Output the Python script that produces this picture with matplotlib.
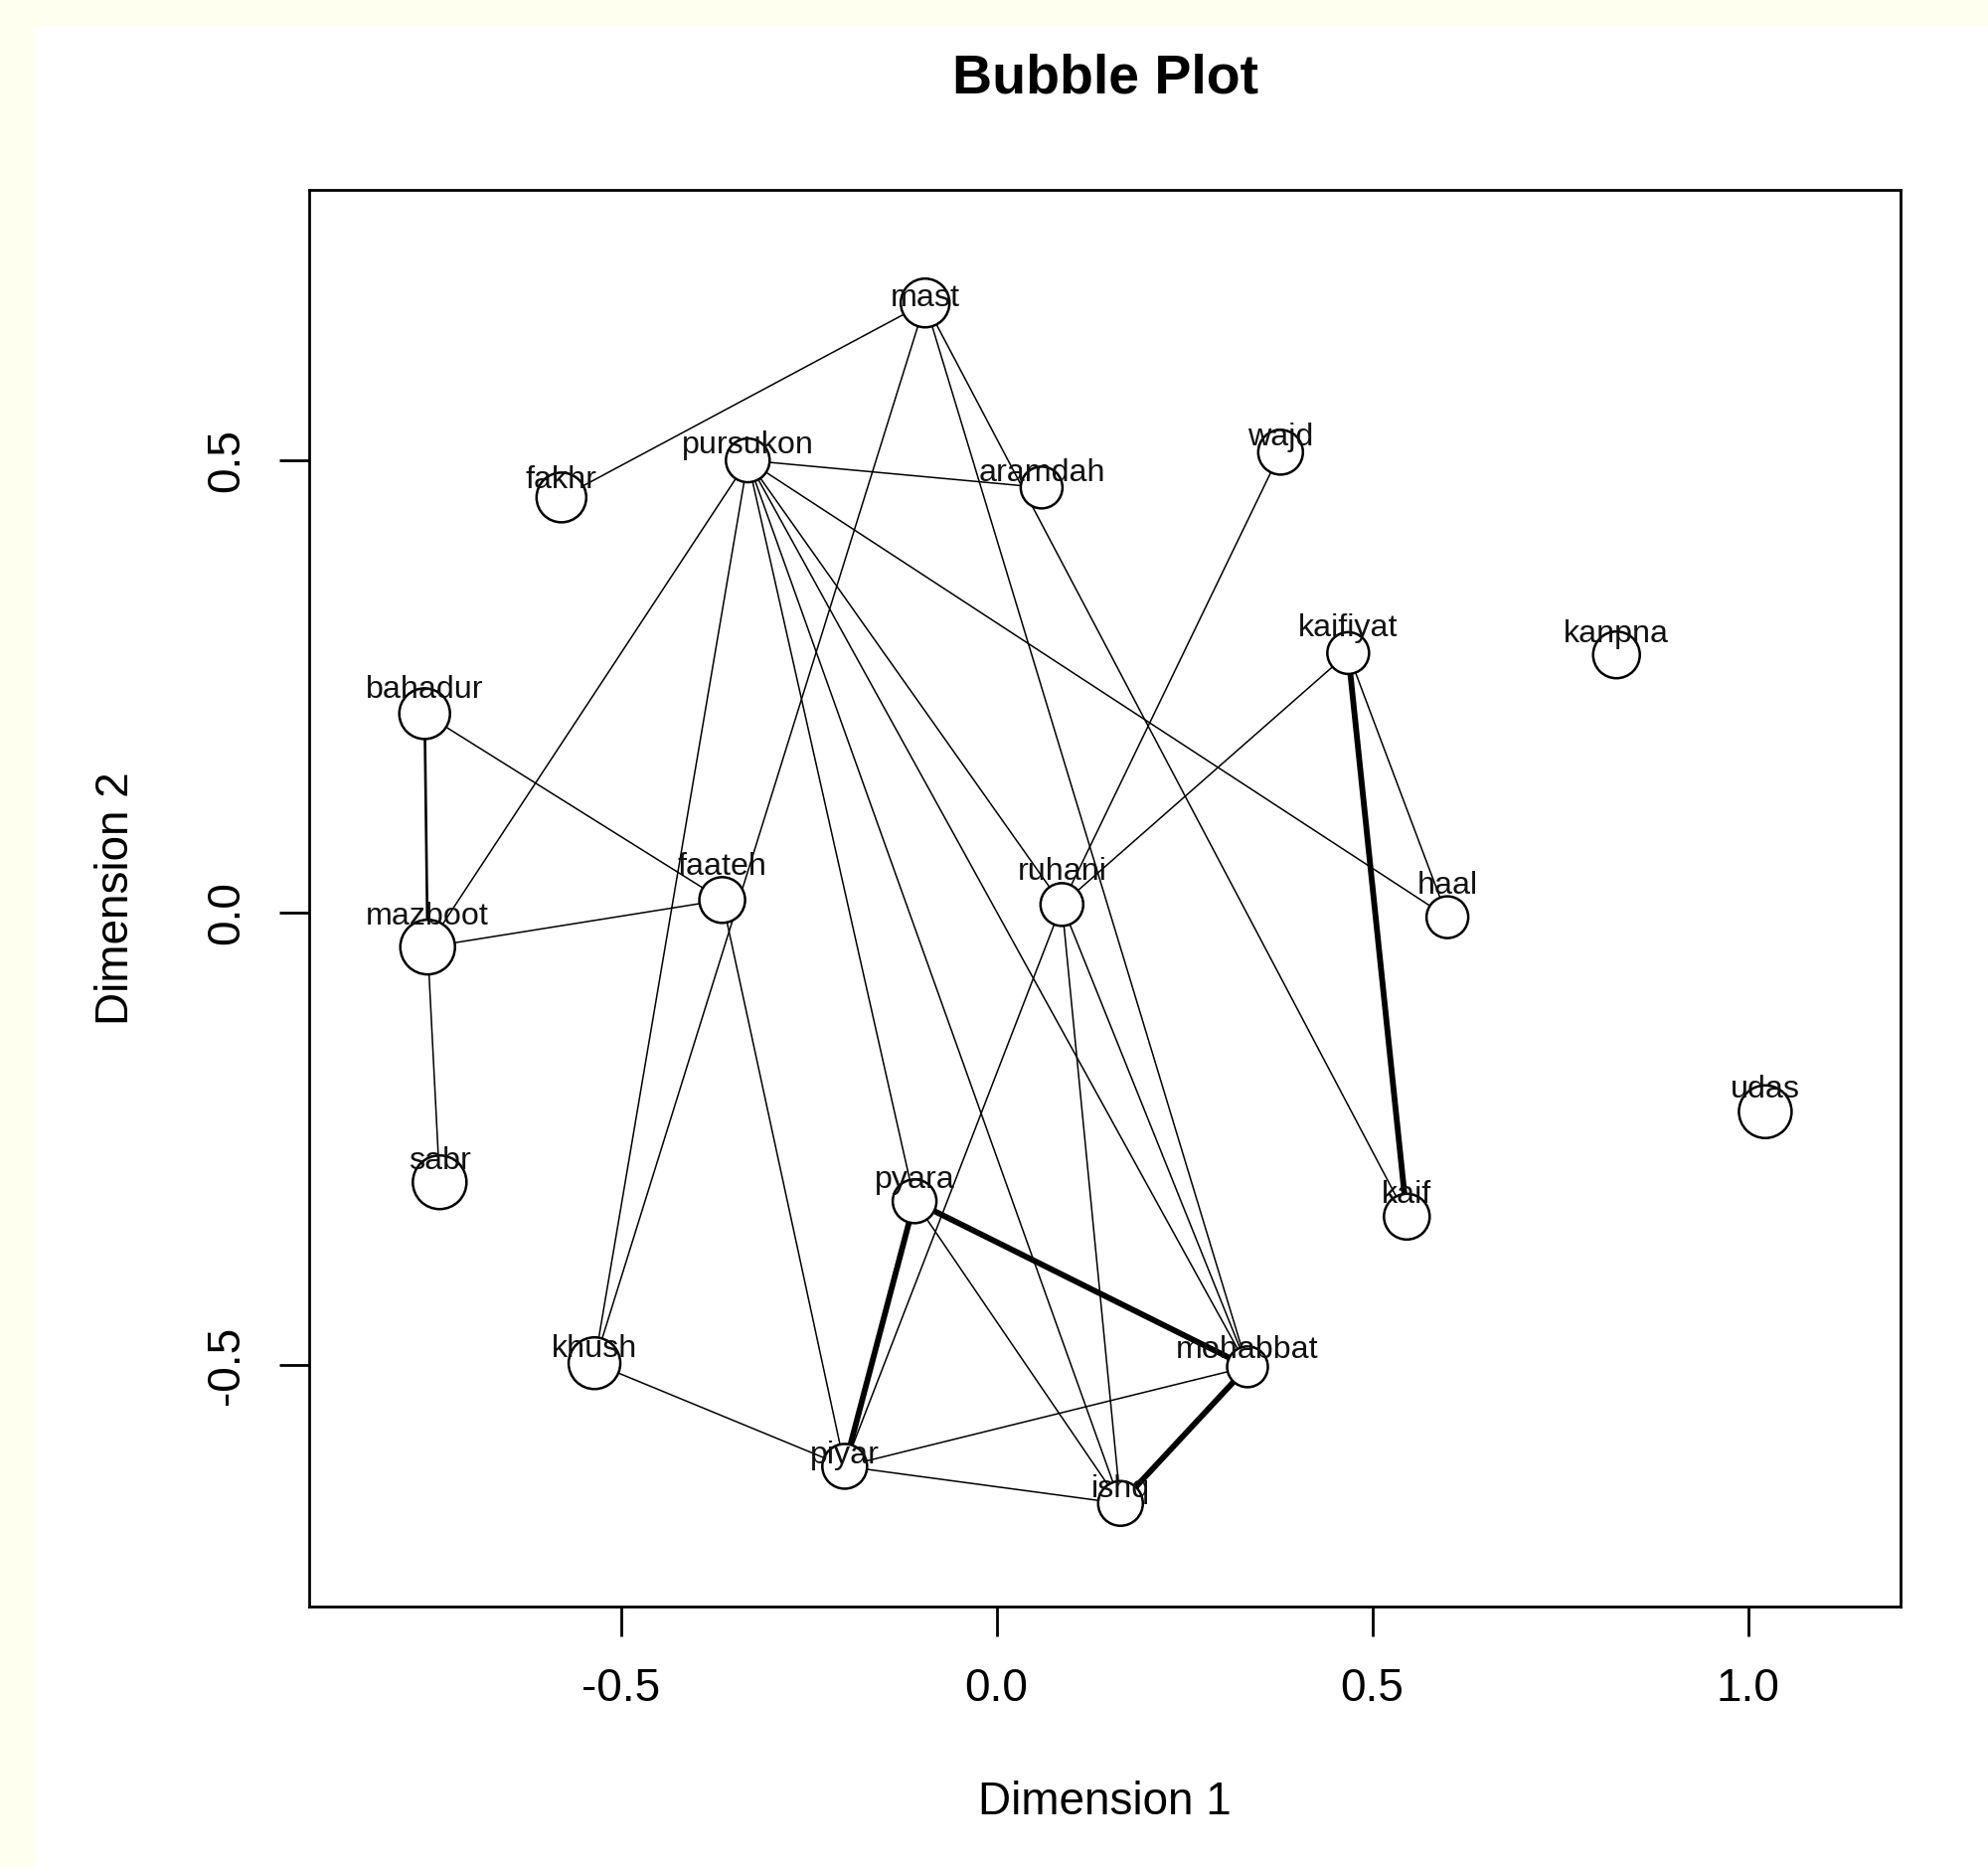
import matplotlib
matplotlib.use('Agg')
import matplotlib.pyplot as plt
from matplotlib.patches import Rectangle

plt.rcParams['font.family'] = ['Liberation Sans', 'DejaVu Sans']

# ---------------- data ----------------
words = ['mast', 'fakhr', 'pursukon', 'aramdah', 'wajd', 'kaifiyat', 'kanpna',
         'bahadur', 'faateh', 'ruhani', 'haal', 'mazboot', 'udas', 'sabr',
         'pyara', 'kaif', 'khush', 'mohabbat', 'piyar', 'ishq']
dim1 = [-0.095, -0.579, -0.331, 0.060, 0.378, 0.468, 0.825,
        -0.761, -0.365, 0.087, 0.600, -0.757, 1.023, -0.741,
        -0.109, 0.546, -0.535, 0.334, -0.202, 0.165]
dim2 = [0.674, 0.459, 0.500, 0.470, 0.509, 0.287, 0.285,
        0.220, 0.014, 0.009, -0.005, -0.038, -0.220, -0.298,
        -0.319, -0.336, -0.498, -0.502, -0.612, -0.653]
bubble_size = [2.45, 2.5, 2.2, 2.1, 2.25, 2.1, 2.35,
               2.55, 2.3, 2.15, 2.1, 2.75, 2.65, 2.7,
               2.2, 2.3, 2.6, 2.05, 2.25, 2.25]
label_dy = [0.009, 0.023, 0.020, 0.020, 0.020, 0.031, 0.027,
            0.030, 0.041, 0.040, 0.039, 0.038, 0.028, 0.027,
            0.027, 0.028, 0.019, 0.022, 0.016, 0.019]

edges_from = ['mast', 'mast', 'mast', 'mast',
              'pursukon', 'pursukon', 'pursukon', 'pursukon', 'pursukon',
              'pursukon', 'pursukon', 'pursukon',
              'wajd', 'kaifiyat', 'kaifiyat', 'kaifiyat',
              'bahadur', 'bahadur', 'mazboot', 'mazboot',
              'faateh', 'ruhani', 'ruhani', 'ruhani',
              'khush', 'pyara', 'pyara', 'pyara', 'piyar', 'piyar', 'mohabbat']
edges_to = ['fakhr', 'khush', 'mohabbat', 'kaif',
            'aramdah', 'haal', 'mazboot', 'khush', 'pyara',
            'ishq', 'mohabbat', 'ruhani',
            'ruhani', 'ruhani', 'haal', 'kaif',
            'faateh', 'mazboot', 'faateh', 'sabr',
            'piyar', 'piyar', 'ishq', 'mohabbat',
            'piyar', 'ishq', 'piyar', 'mohabbat', 'mohabbat', 'ishq', 'ishq']
edges_weight = [1, 1, 1, 1,
                1, 1, 1, 1, 1,
                1, 1, 1,
                1, 1, 1, 3,
                1, 2, 1, 1,
                1, 1, 1, 1,
                1, 1, 3, 3, 1, 1, 3]

x_ticks = [-0.5, 0.0, 0.5, 1.0]
x_tick_labels = ['-0.5', '0.0', '0.5', '1.0']
y_ticks = [-0.5, 0.0, 0.5]
y_tick_labels = ['-0.5', '0.0', '0.5']

# ---------------- figure ----------------
DPI = 200
W, H = 2000, 1879
fig = plt.figure(figsize=(W / DPI, H / DPI), dpi=DPI, facecolor='#FFFFF0')
fig.patches.append(Rectangle((33 / W, 0), 1 - 33 / W, (H - 27) / H,
                             transform=fig.transFigure, facecolor='white',
                             edgecolor='none', zorder=-10))

ax_l, ax_r, ax_t, ax_b = 311, 1912, 191, 1616
ax = fig.add_axes([ax_l / W, 1 - ax_b / H, (ax_r - ax_l) / W, (ax_b - ax_t) / H])
ax.set_zorder(5)
ax.set_xlim(-0.9147, 1.203)
ax.set_ylim(-0.767, 0.799)

idx = {w: i for i, w in enumerate(words)}
lw_map = {1: 0.55, 2: 0.95, 3: 2.1}
for a, b, wt in zip(edges_from, edges_to, edges_weight):
    i, j = idx[a], idx[b]
    ax.plot([dim1[i], dim1[j]], [dim2[i], dim2[j]], color='black',
            lw=lw_map[wt], solid_capstyle='butt', zorder=1)

px_per_unit = 10.0
sizes = [(2 * s * px_per_unit * 72 / DPI) ** 2 for s in bubble_size]
ax.scatter(dim1, dim2, s=sizes, facecolor='white', edgecolor='black',
           linewidths=0.9, zorder=2)

for w, x, y, dy in zip(words, dim1, dim2, label_dy):
    ax.text(x, y + dy, w, ha='center', va='center_baseline', fontsize=11.6,
            color='#111111', zorder=3)

ax.set_xticks(x_ticks)
ax.set_xticklabels(x_tick_labels)
ax.set_yticks(y_ticks)
ax.set_yticklabels(y_tick_labels, rotation=90, va='center')
ax.tick_params(direction='out', length=10.8, width=1.0, labelsize=16.5,
               pad=11, colors='black')
for sp in ax.spines.values():
    sp.set_linewidth(1.0)

cx = (ax_l + ax_r) / 2 / W
cy = 1 - (ax_t + ax_b) / 2 / H
fig.text(cx, 1 - 79 / H, 'Bubble Plot', ha='center', va='center',
         fontsize=20, fontweight='bold')
fig.text(cx, 1 - 1813 / H, 'Dimension 1', ha='center', va='center', fontsize=16.5)
fig.text(117 / W, cy, 'Dimension 2', ha='center', va='center', rotation=90,
         fontsize=16.5)

fig.savefig('out.png', dpi=DPI, facecolor=fig.get_facecolor())
